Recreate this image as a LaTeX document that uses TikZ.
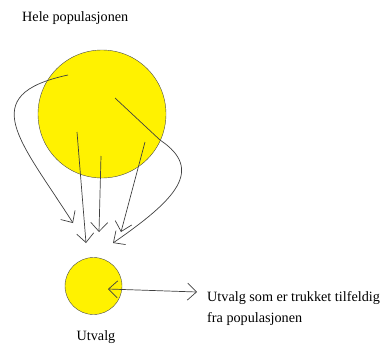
\documentclass[tikz,border=0pt]{standalone}
\usepackage{fontspec}
\setmainfont{Liberation Serif}
\usetikzlibrary{arrows.meta, positioning}

\begin{document}
\begin{tikzpicture}[
    x=1pt, y=-1pt,
    blob/.style={circle, draw=black!70, fill=yellow, inner sep=0pt},
    label/.style={font=\fontsize{14.2}{21}\selectfont, inner sep=0pt, align=left},
    arrow/.style={-{Straight Barb[length=9pt, width=17pt]}, draw=black!75, line width=0.7pt},
]
\useasboundingbox (0,0) rectangle (383,343);

% Nodes
\node[label, anchor=west] (title) at (22,18) {Hele populasjonen};
\node[blob, minimum size=128pt] (pop) at (102,114) {};
\node[blob, minimum size=57pt] (utvalg) at (93.5,286) {};
\node[label] (utvalgtxt) at (96,337) {Utvalg};
\node[label, anchor=north west] (forkl) at (207,291) {Utvalg som er trukket tilfeldig\\fra populasjonen};

% Points in the population and at the sample
\coordinate (a1) at (68,75);
\coordinate (a2) at (77,132);
\coordinate (a3) at (101,156);
\coordinate (a4) at (145,142);
\coordinate (a5) at (115,98);
\coordinate (b1) at (73,223);
\coordinate (b2) at (86,243);
\coordinate (b3) at (99,232);
\coordinate (b4) at (121,232);
\coordinate (b5) at (113,243);
\coordinate (c1) at (108,289);
\coordinate (c2) at (197,292);

% Arrows
\draw[arrow] (a1) .. controls (-25,95) and (20,140) .. (b1);
\draw[arrow] (a2) -- (b2);
\draw[arrow] (a3) -- (b3);
\draw[arrow] (a4) -- (b4);
\draw[arrow] (a5) -- (160,140) .. controls (205,170) and (175,200) .. (b5);
\draw[arrow, {Straight Barb[length=9pt, width=17pt]}-{Straight Barb[length=9pt, width=17pt]}] (c1) -- (c2);

\end{tikzpicture}
\end{document}
